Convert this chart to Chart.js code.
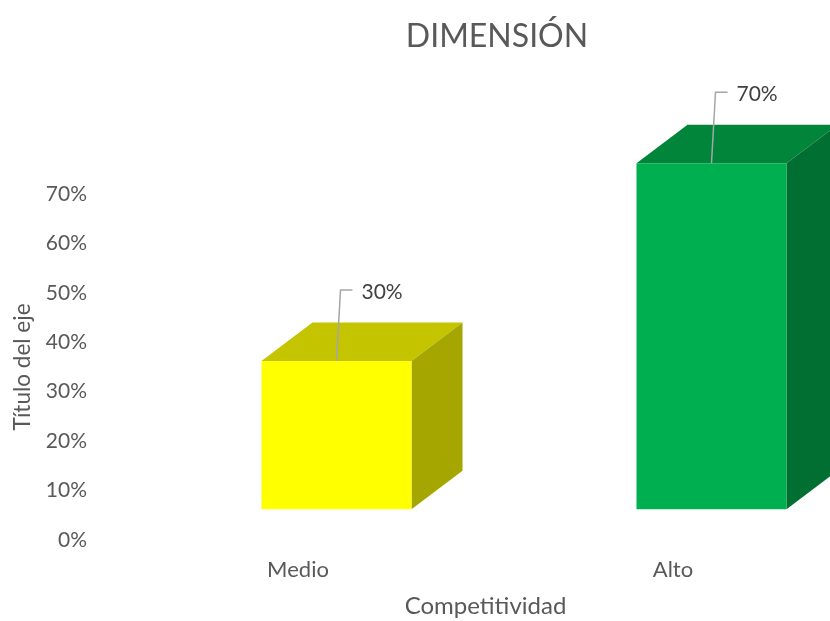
<!DOCTYPE html>
<html lang="es">
<head>
<meta charset="utf-8">
<title>Dimensión</title>
<script src="https://cdn.jsdelivr.net/npm/chart.js@4.4.1/dist/chart.umd.min.js"></script>
<style>
    html, body { margin: 0; padding: 0; background: #fff; overflow: hidden; }
    #wrap { width: 830px; height: 621px; overflow: hidden; }
    canvas { display: block; }
</style>
</head>
<body>
<div id="wrap">
    <canvas id="grafico" width="994" height="621"></canvas>
</div>
<script>
// Datos del gráfico
const categorias = ['Medio', 'Alto'];
const porcentajes = [30, 70];
const marcasEje = [0, 10, 20, 30, 40, 50, 60, 70];

// Colores de cada cara de las barras
const colFrente = ['#FFFF00', '#00B050'];
const colTecho = ['#C4C400', '#00853B'];
const colLado = ['#A6A600', '#006F31'];

// Desplazamiento de la barra respecto al eje y profundidad del prisma
const DX = 38.5, DY = -30.7;
const PX = 51, PY = -38.5;

const fuente = 'Lato, "Open Sans", sans-serif';
const gris = '#595959';

// Dibuja techo y lateral, y desplaza las barras para el efecto 3D
const barras3d = {
    id: 'barras3d',
    beforeDatasetsDraw(chart) {
        const ctx = chart.ctx;
        const meta = chart.getDatasetMeta(0);
        ctx.save();
        ctx.translate(DX, DY);
        meta.data.forEach((bar, i) => {
            const { x, y, base, width } = bar.getProps(['x', 'y', 'base', 'width'], true);
            const l = x - width / 2, r = x + width / 2;
            // techo
            ctx.fillStyle = colTecho[i];
            ctx.beginPath();
            ctx.moveTo(l, y);
            ctx.lineTo(l + PX, y + PY);
            ctx.lineTo(r + PX, y + PY);
            ctx.lineTo(r, y);
            ctx.closePath();
            ctx.fill();
            // lateral
            ctx.fillStyle = colLado[i];
            ctx.beginPath();
            ctx.moveTo(r, y);
            ctx.lineTo(r + PX, y + PY);
            ctx.lineTo(r + PX, base + PY);
            ctx.lineTo(r, base);
            ctx.closePath();
            ctx.fill();
        });
    },
    afterDatasetsDraw(chart) {
        const ctx = chart.ctx;
        ctx.restore();
        // etiquetas de valor con línea guía
        const meta = chart.getDatasetMeta(0);
        meta.data.forEach((bar, i) => {
            const { x, y } = bar.getProps(['x', 'y'], true);
            const cx = x + DX, ty = y + DY;
            const ex = cx + 4, ey = ty - 71;
            ctx.save();
            ctx.strokeStyle = '#A6A6A6';
            ctx.lineWidth = 1.5;
            ctx.beginPath();
            ctx.moveTo(cx, ty);
            ctx.lineTo(ex, ey);
            ctx.lineTo(ex + 12, ey);
            ctx.stroke();
            ctx.fillStyle = '#404040';
            ctx.font = '21px ' + fuente;
            ctx.textAlign = 'left';
            ctx.textBaseline = 'middle';
            ctx.fillText(porcentajes[i] + '%', ex + 21, ey + 2);
            ctx.restore();
        });
    }
};

new Chart(document.getElementById('grafico'), {
    type: 'bar',
    data: {
        labels: categorias,
        datasets: [{
            data: porcentajes,
            backgroundColor: colFrente,
            borderWidth: 0,
            categoryPercentage: 1,
            barPercentage: 0.4,
            clip: false
        }]
    },
    plugins: [barras3d],
    options: {
        responsive: false,
        animation: false,
        layout: { padding: 0 },
        plugins: {
            legend: { display: false },
            tooltip: { enabled: false },
            title: {
                display: true,
                text: 'DIMENSIÓN',
                color: gris,
                font: { family: fuente, size: 32, weight: 'normal', lineHeight: 1.2 },
                padding: { top: 17, bottom: 138.6 }
            }
        },
        scales: {
            x: {
                grid: { display: false, drawTicks: false },
                border: { display: false },
                ticks: { color: gris, font: { family: fuente, size: 22 }, padding: 17 },
                title: {
                    display: true,
                    text: 'Competitividad',
                    color: gris,
                    font: { family: fuente, size: 24 },
                    padding: { top: 0, bottom: 0 }
                },
                afterFit(scale) { scale.height = 81; }
            },
            y: {
                min: marcasEje[0],
                max: marcasEje[marcasEje.length - 1],
                grid: { display: false, drawTicks: false },
                border: { display: false },
                afterBuildTicks(scale) { scale.ticks = marcasEje.map(v => ({ value: v })); },
                ticks: {
                    color: gris,
                    font: { family: fuente, size: 21 },
                    padding: 23.5,
                    callback: v => v + '%'
                },
                title: {
                    display: true,
                    text: 'Título del eje',
                    color: gris,
                    font: { family: fuente, size: 22.5 },
                    padding: { top: 9, bottom: 0 }
                },
                afterFit(scale) { scale.width = 110.5; }
            },
            // eje derecho vacío: reserva el margen que queda a la derecha del área
            margen: {
                type: 'linear',
                position: 'right',
                grid: { display: false, drawTicks: false },
                border: { display: false },
                ticks: { display: false },
                afterFit(scale) { scale.width = 133.5; }
            }
        }
    }
});
</script>
</body>
</html>
